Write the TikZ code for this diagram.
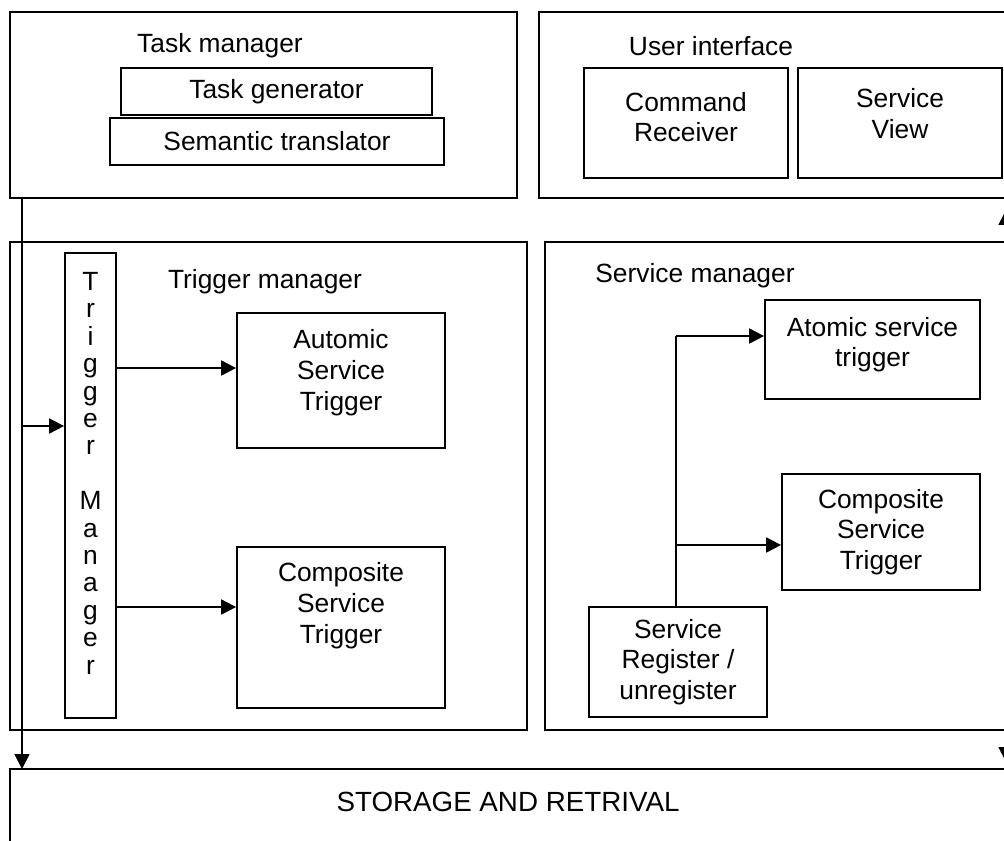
\documentclass[tikz,border=0pt]{standalone}
\usepackage{fontspec}
\setmainfont{Liberation Sans}
\usetikzlibrary{arrows.meta}

\begin{document}
\begin{tikzpicture}[
    x=0.02cm, y=-0.02cm,
    >={Triangle[length=8.5pt,width=8.5pt]},
    every node/.style = {font=\fontsize{15}{17.5}\selectfont, inner sep=2pt},
    box/.style   = {rectangle, draw=black, line width=1pt, align=center},
    title/.style = {align=center},
    link/.style  = {line width=1pt},
  ]
  \useasboundingbox (0,0) rectangle (1004,840);
  % task manager
  \node[box, minimum width=10.14cm, minimum height=3.72cm] (taskmgr) at (263.5,105) {};
  \node[title] (taskmgrt) at (220,46) {Task manager};
  \node[box, minimum width=6.22cm, minimum height=0.94cm] (taskgen) at (276.5,91.5) {Task generator};
  \node[box, minimum width=6.68cm, minimum height=0.94cm] (semtrans) at (277,141.5) {Semantic translator};
  % user interface
  \node[box, minimum width=9.42cm, minimum height=3.72cm] (userif) at (774.5,105) {};
  \node[title] (userift) at (711,46) {User interface};
  \node[box, minimum width=4.08cm, minimum height=2.2cm] (cmdrecv) at (686,123) {Command\\Receiver\\[-10.7pt]};
  \node[box, minimum width=4.08cm, minimum height=2.2cm] (svcview) at (900,123) {Service\\View\\[-6.2pt]};
  % trigger manager
  \node[box, minimum width=10.34cm, minimum height=9.76cm] (trigmgr) at (268.5,486) {};
  \node[title] (trigmgrt) at (265,282) {Trigger manager};
  \node[box, minimum width=1.02cm, minimum height=9.3cm,
        font=\fontsize{15}{15.6}\selectfont] (trigv) at (90.5,485.5)
        {T\\r\\i\\g\\g\\e\\r\\ \\M\\a\\n\\a\\g\\e\\r\\[-1.6pt]};
  \node[box, minimum width=4.16cm, minimum height=2.7cm] (autotrig) at (341,380.5) {Automic\\Service\\Trigger\\[-5.6pt]};
  \node[box, minimum width=4.16cm, minimum height=3.22cm] (comptrigl) at (341,627.5) {Composite\\Service\\Trigger\\[10.3pt]};
  % service manager
  \node[box, minimum width=9.3cm, minimum height=9.76cm] (svcmgr) at (777.5,486) {};
  \node[title] (svcmgrt) at (695,276) {Service manager};
  \node[box, minimum width=4.3cm, minimum height=1.98cm] (atomtrig) at (872.5,349.5) {Atomic service\\trigger\\[-9pt]};
  \node[box, minimum width=3.96cm, minimum height=2.32cm] (comptrigr) at (881,532) {Composite\\Service\\Trigger};
  \node[box, minimum width=3.56cm, minimum height=2.2cm] (svcreg) at (678,662) {Service\\Register /\\unregister};
  % storage
  \node[box, minimum width=20cm, minimum height=1.62cm] (storage) at (510,809.5) {};
  \node[title, font=\fontsize{15.8}{18}\selectfont] (storaget) at (508,802) {STORAGE AND RETRIVAL};
  % connectors
  \coordinate (ltop) at (22,198);
  \coordinate (lbot) at (22,769);
  \coordinate (lmid) at (22,426);
  \coordinate (rtop) at (1006,210);
  \coordinate (rbot) at (1006,762);
  \coordinate (split1) at (676,336);
  \coordinate (split2) at (676,545);
  \draw[link, ->] (ltop) -- (lbot);
  \draw[link, ->] (lmid) -- (lmid -| trigv.west);
  \draw[link, ->] (trigv.east |- 0,368) -- (autotrig.west |- 0,368);
  \draw[link, ->] (trigv.east |- 0,607) -- (comptrigl.west |- 0,607);
  \draw[link] (svcreg.north -| split1) -- (split1);
  \draw[link, ->] (split1) -- (split1 -| atomtrig.west);
  \draw[link, ->] (split2) -- (split2 -| comptrigr.west);
  \draw[link, <->] (rbot) -- (rtop);
\end{tikzpicture}
\end{document}
